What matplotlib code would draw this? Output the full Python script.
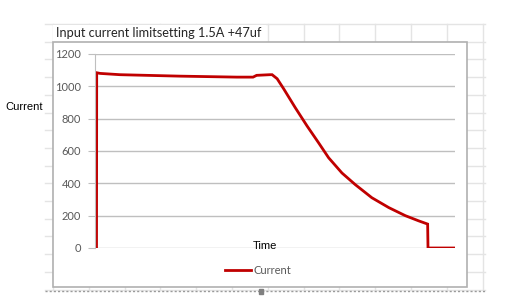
import matplotlib
matplotlib.use("Agg")
import matplotlib.pyplot as plt
from matplotlib.patches import Rectangle

time = [0.42, 0.47, 1.39, 6.94, 23.6, 39.4, 43.9, 44.9, 48.6, 49.2, 50.6, 52.4,
        55.6, 58.9, 62.1, 64.9, 68.6, 72.3, 76.9, 81.6, 86.2, 89.9, 92.4, 92.5, 100]
current = [0, 1084, 1080, 1072, 1063, 1057, 1057, 1068, 1072, 1072, 1047, 985,
           869, 755, 651, 558, 464, 392, 311, 250, 200, 168, 148, 0, 0]
y_ticks = [0, 200, 400, 600, 800, 1000, 1200]

title = "Input current limitsetting 1.5A +47uf"
W, H = 507, 302


def main():
    fig = plt.figure(figsize=(W / 100, H / 100), dpi=100)
    draw_sheet(fig)
    ax = fig.add_axes([95 / W, 1 - 248 / H, 360 / W, 194 / H])
    ax.patch.set_alpha(0)
    ax.plot(time, current, color="#c00000", lw=2, solid_joinstyle="miter", label="Current")
    ax.set_xlim(0, 100)
    ax.set_ylim(0, 1200)
    ax.set_yticks(y_ticks)
    ax.set_xticks([])
    ax.grid(axis="y", color="#bfbfbf", lw=1)
    ax.set_axisbelow(True)
    for s in ["top", "right", "bottom"]:
        ax.spines[s].set_visible(False)
    ax.spines["left"].set_color("#bfbfbf")
    ax.tick_params(axis="y", length=5, color="#bfbfbf", labelcolor="#595959",
                   labelsize=8, pad=5)
    for lbl in ax.get_yticklabels():
        lbl.set_family("Lato")

    fig.text(265 / W, 1 - 246 / H, "Time", ha="center", va="center",
             family="Liberation Sans", fontsize=8, color="black")
    fig.text(5 / W, 1 - 107 / H, "Current", ha="left", va="center",
             family="Liberation Sans", fontsize=8, color="black")
    fig.text(56 / W, 1 - 33 / H, title, ha="left", va="center",
             family="Lato", fontsize=9.2, color="#262626")

    ax.legend(loc="center", bbox_to_anchor=(258 / W, 1 - 270 / H),
              bbox_transform=fig.transFigure, frameon=False,
              prop={"family": "Lato", "size": 8}, labelcolor="#595959",
              handlelength=2.3, handletextpad=0.2)
    fig.savefig("out.png", dpi=100)


def draw_sheet(fig):
    bg = fig.add_axes([0, 0, 1, 1], zorder=-1)
    bg.set_xlim(0, W)
    bg.set_ylim(H, 0)
    bg.axis("off")
    grid = "#e4e4e4"
    for k in range(16):
        y = 24 + 17.7 * k
        bg.plot([45, 485], [y, y], color=grid, lw=1, zorder=1)
    for k in range(13):
        x = 53 + 35.8 * k
        bg.plot([x, x], [24, 290], color=grid, lw=1, zorder=1)
    bg.plot([45, 485], [291, 291], color="#9a9a9a", lw=1, ls=(0, (1.5, 1.5)), zorder=4)
    bg.add_patch(Rectangle((259, 288.5), 4, 5, color="#808080", zorder=5))
    bg.add_patch(Rectangle((53, 24.5), 213, 17, facecolor="white", edgecolor="none", zorder=3))
    bg.add_patch(Rectangle((53, 42), 414, 245, facecolor="white", edgecolor="#b0b0b0",
                           lw=1.2, zorder=3))


if __name__ == "__main__":
    main()
